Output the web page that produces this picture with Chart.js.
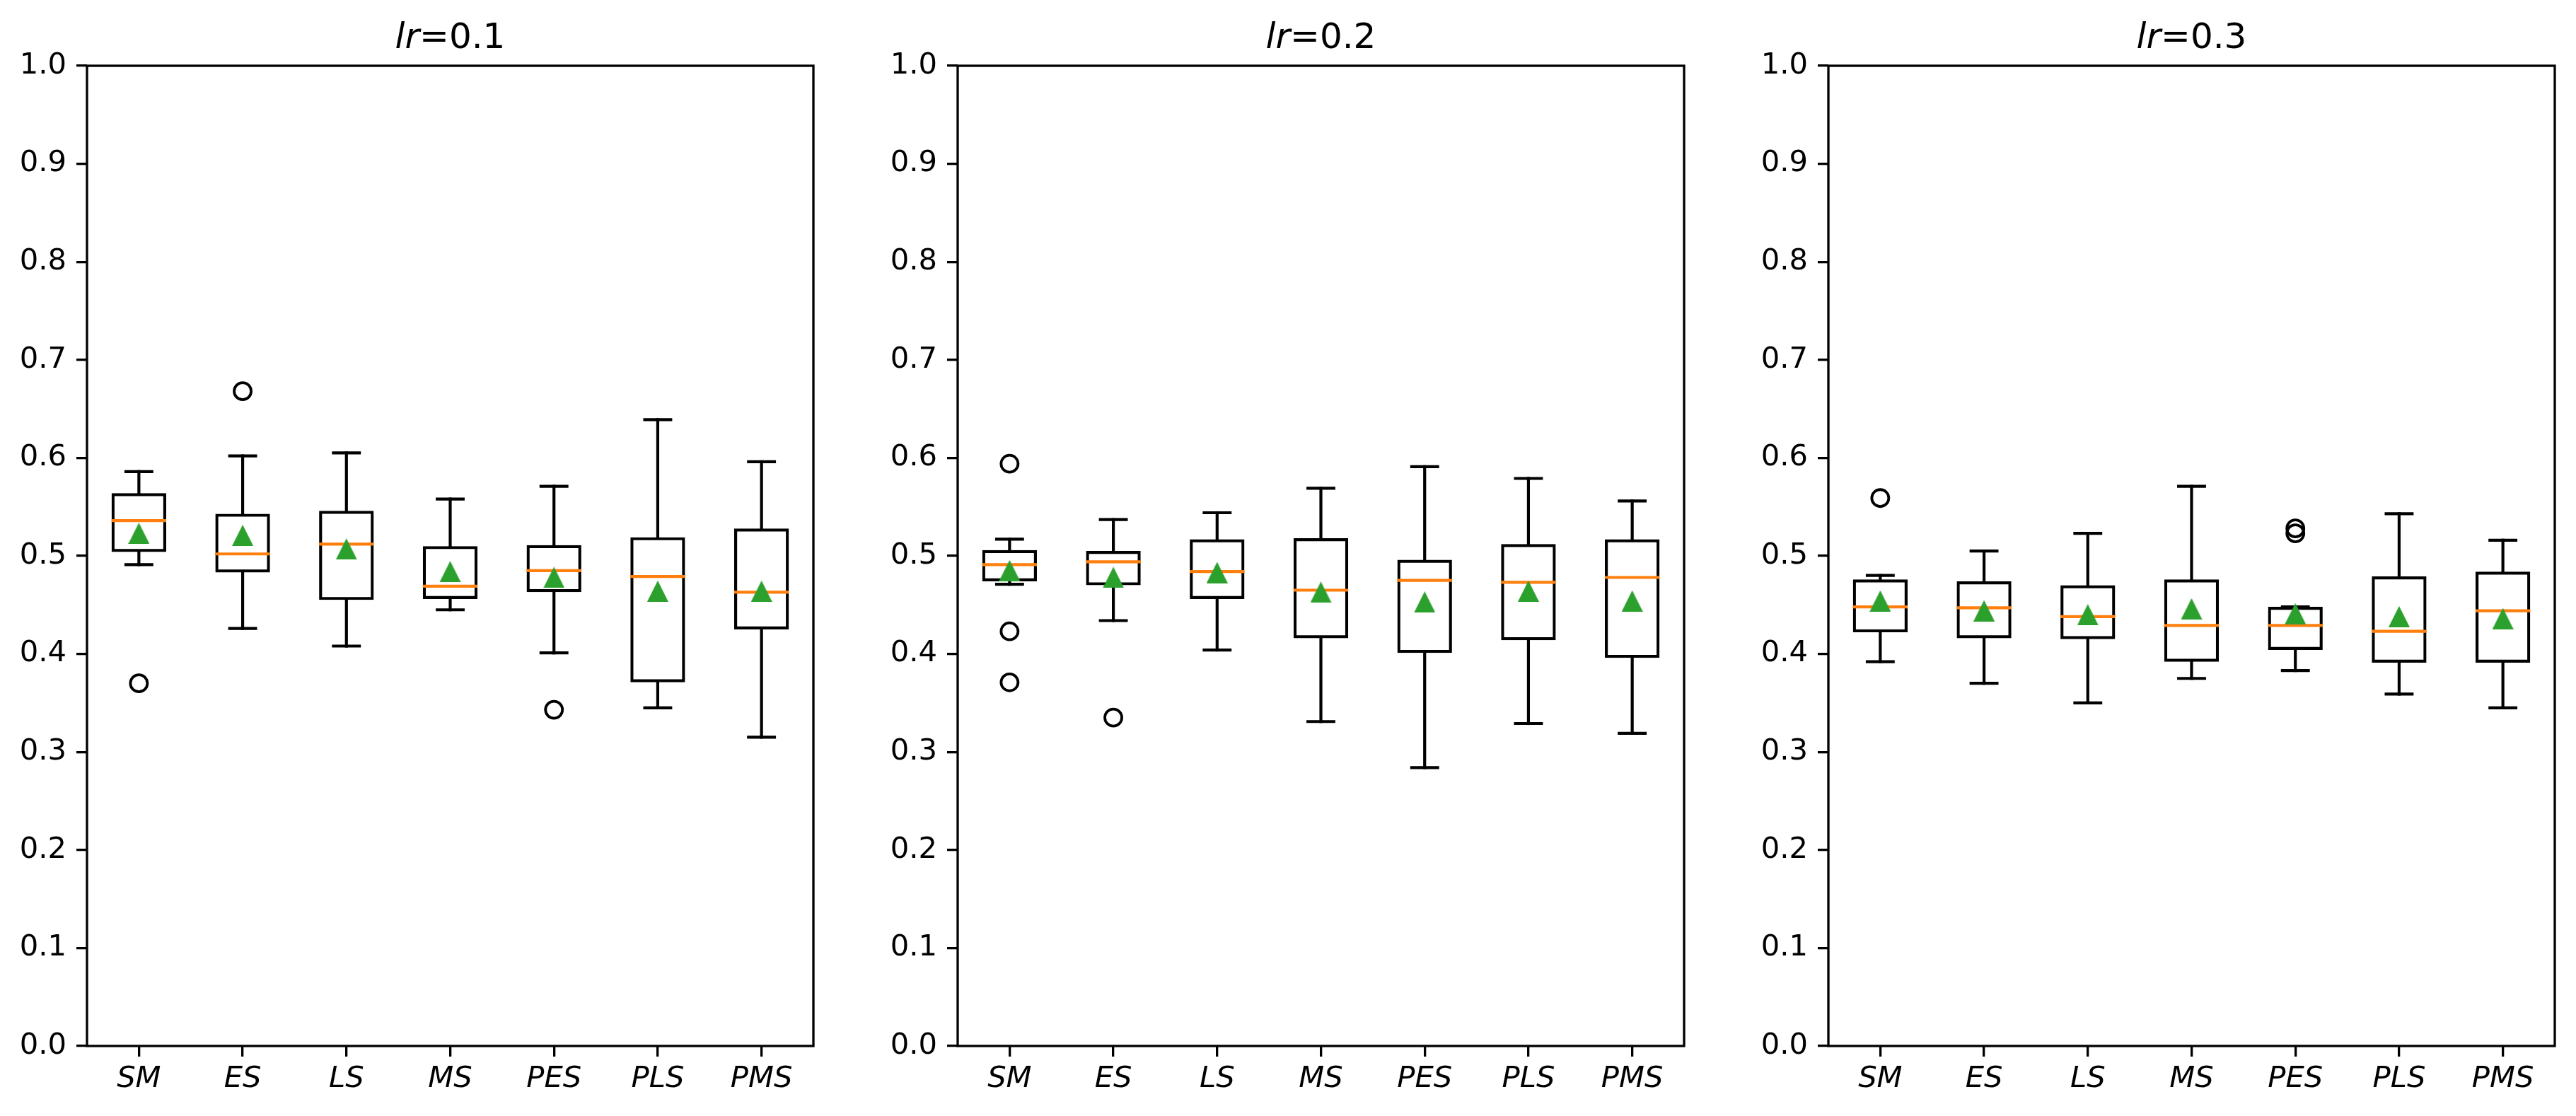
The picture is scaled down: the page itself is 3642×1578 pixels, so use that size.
<!DOCTYPE html>
<html>
<head>
<meta charset="utf-8">
<title>lr box plots</title>
<script src="https://cdn.jsdelivr.net/npm/chart.js@4.4.1/dist/chart.umd.min.js"></script>
<style>
  html, body { margin: 0; padding: 0; background: #fff; }
  #wrap { position: relative; width: 3642px; height: 1578px; }
  canvas { position: absolute; top: 0; width: 1231px; height: 1578px; }
</style>
</head>
<body>
<div id="wrap">
  <canvas id="lr1" width="1231" height="1578" style="left:0px"></canvas>
  <canvas id="lr2" width="1231" height="1578" style="left:1231px"></canvas>
  <canvas id="lr3" width="1231" height="1578" style="left:2462px"></canvas>
</div>
<script>
const methods = ['SM', 'ES', 'LS', 'MS', 'PES', 'PLS', 'PMS'];
const yTicks = [0, 0.1, 0.2, 0.3, 0.4, 0.5, 0.6, 0.7, 0.8, 0.9, 1.0];

// lr = 0.1
const low01    = [0.491, 0.426, 0.408, 0.445, 0.401, 0.345, 0.315];
const q1_01    = [0.504, 0.483, 0.455, 0.456, 0.463, 0.371, 0.425];
const median01 = [0.536, 0.502, 0.512, 0.469, 0.485, 0.479, 0.463];
const q3_01    = [0.564, 0.543, 0.546, 0.510, 0.511, 0.519, 0.528];
const high01   = [0.586, 0.602, 0.605, 0.558, 0.571, 0.639, 0.596];
const mean01   = [0.523, 0.521, 0.507, 0.484, 0.478, 0.464, 0.464];
const fliers01 = [[0.370], [0.668], [], [], [0.343], [], []];

// lr = 0.2
const low02    = [0.471, 0.434, 0.404, 0.331, 0.284, 0.329, 0.319];
const q1_02    = [0.474, 0.470, 0.456, 0.416, 0.401, 0.414, 0.396];
const median02 = [0.491, 0.494, 0.484, 0.465, 0.475, 0.473, 0.478];
const q3_02    = [0.506, 0.505, 0.517, 0.518, 0.496, 0.512, 0.517];
const high02   = [0.517, 0.537, 0.544, 0.569, 0.591, 0.579, 0.556];
const mean02   = [0.485, 0.478, 0.483, 0.463, 0.453, 0.464, 0.454];
const fliers02 = [[0.594, 0.423, 0.371], [0.335], [], [], [], [], []];

// lr = 0.3
const low03    = [0.392, 0.370, 0.350, 0.375, 0.383, 0.359, 0.345];
const q1_03    = [0.422, 0.416, 0.415, 0.392, 0.404, 0.391, 0.391];
const median03 = [0.448, 0.447, 0.438, 0.429, 0.429, 0.423, 0.444];
const q3_03    = [0.476, 0.474, 0.470, 0.476, 0.448, 0.479, 0.484];
const high03   = [0.480, 0.505, 0.523, 0.571, 0.448, 0.543, 0.516];
const mean03   = [0.454, 0.444, 0.440, 0.446, 0.441, 0.438, 0.436];
const fliers03 = [[0.559], [], [], [], [0.528, 0.523], [], []];

const FONT = '"DejaVu Sans"';
const LW = 4.2;      // 1pt at 300 dpi
const SPINE = 3.3;   // 0.8pt

Chart.defaults.font.family = FONT;
Chart.defaults.color = '#000';

// matplotlib-like '^' marker (centered on its bounding box)
const tri = document.createElement('canvas');
tri.width = 30; tri.height = 30;
(function () {
  const c = tri.getContext('2d');
  c.fillStyle = '#2ca02c';
  c.beginPath();
  c.moveTo(15, 0);
  c.lineTo(30, 30);
  c.lineTo(0, 30);
  c.closePath();
  c.fill();
})();

function boxParts(stats, lr) {
  return {
    id: 'boxParts',
    afterDatasetDraw(chart, args) {
      if (args.meta.type !== 'bar') return;
      const x = chart.scales.x, y = chart.scales.y, ctx = chart.ctx;
      const seg = (x0, y0, x1, y1) => { ctx.beginPath(); ctx.moveTo(x0, y0); ctx.lineTo(x1, y1); ctx.stroke(); };
      ctx.save();
      ctx.lineWidth = LW;
      ctx.lineCap = 'square';
      ctx.strokeStyle = '#000';
      methods.forEach((m, i) => {
        const cx = x.getPixelForValue(i);
        const cl = x.getPixelForValue(i - 0.125), cr = x.getPixelForValue(i + 0.125);
        seg(cx, y.getPixelForValue(stats.q1[i]), cx, y.getPixelForValue(stats.low[i]));
        seg(cx, y.getPixelForValue(stats.q3[i]), cx, y.getPixelForValue(stats.high[i]));
        seg(cl, y.getPixelForValue(stats.low[i]), cr, y.getPixelForValue(stats.low[i]));
        seg(cl, y.getPixelForValue(stats.high[i]), cr, y.getPixelForValue(stats.high[i]));
      });
      ctx.strokeStyle = '#ff7f0e';
      ctx.lineCap = 'butt';
      methods.forEach((m, i) => {
        const ml = x.getPixelForValue(i - 0.25) - 2, mr = x.getPixelForValue(i + 0.25) + 2;
        const my = y.getPixelForValue(stats.median[i]);
        seg(ml, my, mr, my);
      });
      ctx.restore();
    },
    afterDraw(chart) {
      const a = chart.chartArea, ctx = chart.ctx;
      ctx.save();
      ctx.lineWidth = SPINE;
      ctx.strokeStyle = '#000';
      ctx.strokeRect(a.left, a.top, a.right - a.left, a.bottom - a.top);
      // title: italic "lr" followed by "=value"
      ctx.fillStyle = '#000';
      ctx.textBaseline = 'alphabetic';
      ctx.font = 'italic 50px ' + FONT;
      const w1 = ctx.measureText('lr').width;
      ctx.font = '50px ' + FONT;
      const rest = '=' + lr;
      const w2 = ctx.measureText(rest).width;
      const x0 = (a.left + a.right) / 2 - (w1 + w2) / 2;
      const by = a.top - 25;
      ctx.font = 'italic 50px ' + FONT;
      ctx.fillText('lr', x0, by);
      ctx.font = '50px ' + FONT;
      ctx.fillText(rest, x0 + w1, by);
      ctx.restore();
    }
  };
}

function makeChart(id, lr, stats) {
  const flierPoints = [];
  stats.fliers.forEach((list, i) => list.forEach(v => flierPoints.push({ x: methods[i], y: v })));

  return new Chart(document.getElementById(id), {
    type: 'bar',
    data: {
      labels: methods,
      datasets: [
        {
          type: 'line',
          label: 'mean',
          data: stats.mean,
          showLine: false,
          pointStyle: tri,
          pointRadius: 15,
          pointHoverRadius: 15
        },
        {
          type: 'line',
          label: 'outliers',
          data: flierPoints,
          showLine: false,
          pointStyle: 'circle',
          pointRadius: 12,
          pointHoverRadius: 12,
          pointBorderWidth: 3.8,
          pointBorderColor: '#000',
          pointBackgroundColor: 'rgba(0,0,0,0)'
        },
        {
          type: 'bar',
          label: 'box',
          data: stats.q1.map((v, i) => [v, stats.q3[i]]),
          backgroundColor: 'rgba(0,0,0,0)',
          borderColor: '#000',
          borderWidth: LW,
          borderSkipped: false,
          barPercentage: 0.527,
          categoryPercentage: 1.0
        }
      ]
    },
    options: {
      responsive: false,
      animation: false,
      devicePixelRatio: 1,
      layout: { padding: { left: 0, top: 93, right: 81, bottom: 0 } },
      plugins: { legend: { display: false }, tooltip: { enabled: false } },
      scales: {
        x: {
          type: 'category',
          offset: true,
          border: { display: false },
          grid: {
            offset: false, drawOnChartArea: false, drawTicks: true,
            tickLength: 15, tickWidth: SPINE, tickColor: '#000', color: '#000', lineWidth: SPINE
          },
          ticks: {
            font: { family: FONT, size: 41.7, style: 'italic' },
            color: '#000', padding: 7, maxRotation: 0, autoSkip: false
          },
          afterFit(s) { s.height = 99; }
        },
        y: {
          min: 0,
          max: 1,
          border: { display: false },
          grid: {
            drawOnChartArea: false, drawTicks: true,
            tickLength: 15, tickWidth: SPINE, tickColor: '#000', color: '#000', lineWidth: SPINE
          },
          afterBuildTicks(s) { s.ticks = yTicks.map(v => ({ value: v })); },
          ticks: {
            font: { family: FONT, size: 41.7 },
            color: '#000', padding: 14, autoSkip: false,
            callback: v => Number(v).toFixed(1)
          },
          afterFit(s) { s.width = 123; }
        }
      }
    },
    plugins: [boxParts(stats, lr)]
  });
}

makeChart('lr1', '0.1', { low: low01, q1: q1_01, median: median01, q3: q3_01, high: high01, mean: mean01, fliers: fliers01 });
makeChart('lr2', '0.2', { low: low02, q1: q1_02, median: median02, q3: q3_02, high: high02, mean: mean02, fliers: fliers02 });
makeChart('lr3', '0.3', { low: low03, q1: q1_03, median: median03, q3: q3_03, high: high03, mean: mean03, fliers: fliers03 });
</script>
</body>
</html>
